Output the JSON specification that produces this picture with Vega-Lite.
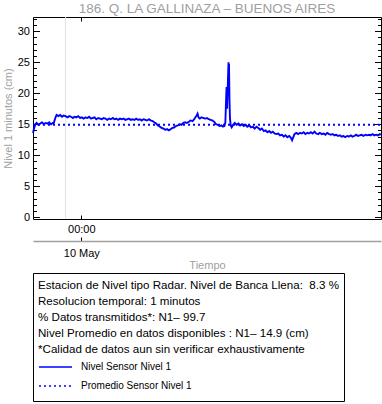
{
  "$schema": "https://vega.github.io/schema/vega-lite/v6.json",
  "width": 348,
  "height": 202,
  "autosize": "none",
  "padding": {"left": 33, "top": 17, "right": 1, "bottom": 185},
  "title": {"text": "186. Q. LA GALLINAZA – BUENOS AIRES", "fontSize": 13.5, "font": "Liberation Sans", "fontWeight": "normal", "color": "#a0a0a0", "anchor": "middle", "baseline": "alphabetic", "offset": 4, "dy": 18, "frame": "group"},
  "config": {
    "view": {"stroke": null},
    "font": "Liberation Sans",
    "axis": {"grid": false, "domainColor": "black", "domainWidth": 1, "tickColor": "black", "tickWidth": 1, "labelColor": "black", "labelFont": "Liberation Sans", "labelFontSize": 11, "labelOverlap": false, "labelFlush": false, "titleFont": "Liberation Sans", "titleFontSize": 11, "titleFontWeight": "normal", "titleColor": "#a0a0a0"},
    "legend": {
      "orient": "bottom", "direction": "vertical", "offset": 2,
      "titleFont": "Liberation Sans", "titleFontSize": 11.6, "titleFontWeight": "normal", "titleColor": "black", "titleLineHeight": 16, "titleBaseline": "line-top", "titlePadding": 4, "titleLimit": 500,
      "labelFont": "Liberation Sans", "labelFontSize": 10, "labelColor": "black", "labelOffset": 8, "labelLimit": 400,
      "padding": 5, "strokeColor": "black", "strokeWidth": 1, "fillColor": "white",
      "symbolType": "stroke", "symbolSize": 1089, "symbolStrokeWidth": 1.5, "clipHeight": 19, "rowPadding": 0
    }
  },
  "datasets": {
    "marca": [{"tiempo": "2024-05-09T22:55:00"}],
    "promedio": [
      {"tiempo": "2024-05-09T20:40:00", "nivel": 14.9},
      {"tiempo": "2024-05-10T20:40:00", "nivel": 14.9}
    ],
    "nivel": [
      {"tiempo": "2024-05-09T20:40:00", "nivel": 13.6},
      {"tiempo": "2024-05-09T20:45:00", "nivel": 14.4},
      {"tiempo": "2024-05-09T20:50:00", "nivel": 15.0},
      {"tiempo": "2024-05-09T20:55:00", "nivel": 15.2},
      {"tiempo": "2024-05-09T21:02:00", "nivel": 14.9},
      {"tiempo": "2024-05-09T21:10:00", "nivel": 15.1},
      {"tiempo": "2024-05-09T21:17:00", "nivel": 15.3},
      {"tiempo": "2024-05-09T21:25:00", "nivel": 15.0},
      {"tiempo": "2024-05-09T21:32:00", "nivel": 15.2},
      {"tiempo": "2024-05-09T21:40:00", "nivel": 15.1},
      {"tiempo": "2024-05-09T21:47:00", "nivel": 15.3},
      {"tiempo": "2024-05-09T21:55:00", "nivel": 15.0},
      {"tiempo": "2024-05-09T22:02:00", "nivel": 15.2},
      {"tiempo": "2024-05-09T22:06:00", "nivel": 15.2},
      {"tiempo": "2024-05-09T22:10:00", "nivel": 15.7},
      {"tiempo": "2024-05-09T22:14:00", "nivel": 16.2},
      {"tiempo": "2024-05-09T22:18:00", "nivel": 16.5},
      {"tiempo": "2024-05-09T22:25:00", "nivel": 16.3},
      {"tiempo": "2024-05-09T22:32:00", "nivel": 16.5},
      {"tiempo": "2024-05-09T22:40:00", "nivel": 16.2},
      {"tiempo": "2024-05-09T22:47:00", "nivel": 16.4},
      {"tiempo": "2024-05-09T22:55:00", "nivel": 16.3},
      {"tiempo": "2024-05-09T23:02:00", "nivel": 16.1},
      {"tiempo": "2024-05-09T23:10:00", "nivel": 16.3},
      {"tiempo": "2024-05-09T23:17:00", "nivel": 16.2},
      {"tiempo": "2024-05-09T23:25:00", "nivel": 16.0},
      {"tiempo": "2024-05-09T23:32:00", "nivel": 16.2},
      {"tiempo": "2024-05-09T23:40:00", "nivel": 16.1},
      {"tiempo": "2024-05-09T23:47:00", "nivel": 16.3},
      {"tiempo": "2024-05-09T23:55:00", "nivel": 16.0},
      {"tiempo": "2024-05-10T00:02:00", "nivel": 16.1},
      {"tiempo": "2024-05-10T00:10:00", "nivel": 15.9},
      {"tiempo": "2024-05-10T00:17:00", "nivel": 16.1},
      {"tiempo": "2024-05-10T00:25:00", "nivel": 16.0},
      {"tiempo": "2024-05-10T00:32:00", "nivel": 16.2},
      {"tiempo": "2024-05-10T00:40:00", "nivel": 15.9},
      {"tiempo": "2024-05-10T00:47:00", "nivel": 16.0},
      {"tiempo": "2024-05-10T00:55:00", "nivel": 16.1},
      {"tiempo": "2024-05-10T01:02:00", "nivel": 15.8},
      {"tiempo": "2024-05-10T01:10:00", "nivel": 16.0},
      {"tiempo": "2024-05-10T01:17:00", "nivel": 15.9},
      {"tiempo": "2024-05-10T01:25:00", "nivel": 15.8},
      {"tiempo": "2024-05-10T01:32:00", "nivel": 16.0},
      {"tiempo": "2024-05-10T01:40:00", "nivel": 15.9},
      {"tiempo": "2024-05-10T01:47:00", "nivel": 15.7},
      {"tiempo": "2024-05-10T01:55:00", "nivel": 15.9},
      {"tiempo": "2024-05-10T02:02:00", "nivel": 15.8},
      {"tiempo": "2024-05-10T02:10:00", "nivel": 16.0},
      {"tiempo": "2024-05-10T02:17:00", "nivel": 15.8},
      {"tiempo": "2024-05-10T02:25:00", "nivel": 15.9},
      {"tiempo": "2024-05-10T02:32:00", "nivel": 15.7},
      {"tiempo": "2024-05-10T02:40:00", "nivel": 15.9},
      {"tiempo": "2024-05-10T02:47:00", "nivel": 15.8},
      {"tiempo": "2024-05-10T02:55:00", "nivel": 15.9},
      {"tiempo": "2024-05-10T03:02:00", "nivel": 15.7},
      {"tiempo": "2024-05-10T03:10:00", "nivel": 15.8},
      {"tiempo": "2024-05-10T03:17:00", "nivel": 15.9},
      {"tiempo": "2024-05-10T03:25:00", "nivel": 15.7},
      {"tiempo": "2024-05-10T03:32:00", "nivel": 15.8},
      {"tiempo": "2024-05-10T03:40:00", "nivel": 15.7},
      {"tiempo": "2024-05-10T03:47:00", "nivel": 15.9},
      {"tiempo": "2024-05-10T03:55:00", "nivel": 15.7},
      {"tiempo": "2024-05-10T04:02:00", "nivel": 15.8},
      {"tiempo": "2024-05-10T04:10:00", "nivel": 15.6},
      {"tiempo": "2024-05-10T04:17:00", "nivel": 15.8},
      {"tiempo": "2024-05-10T04:25:00", "nivel": 15.7},
      {"tiempo": "2024-05-10T04:32:00", "nivel": 15.6},
      {"tiempo": "2024-05-10T04:40:00", "nivel": 15.8},
      {"tiempo": "2024-05-10T04:47:00", "nivel": 15.6},
      {"tiempo": "2024-05-10T04:55:00", "nivel": 15.5},
      {"tiempo": "2024-05-10T05:02:00", "nivel": 15.3},
      {"tiempo": "2024-05-10T05:10:00", "nivel": 15.1},
      {"tiempo": "2024-05-10T05:17:00", "nivel": 14.8},
      {"tiempo": "2024-05-10T05:25:00", "nivel": 14.6},
      {"tiempo": "2024-05-10T05:32:00", "nivel": 14.4},
      {"tiempo": "2024-05-10T05:40:00", "nivel": 14.3},
      {"tiempo": "2024-05-10T05:47:00", "nivel": 14.1},
      {"tiempo": "2024-05-10T05:55:00", "nivel": 14.2},
      {"tiempo": "2024-05-10T06:02:00", "nivel": 14.0},
      {"tiempo": "2024-05-10T06:10:00", "nivel": 14.2},
      {"tiempo": "2024-05-10T06:17:00", "nivel": 14.4},
      {"tiempo": "2024-05-10T06:25:00", "nivel": 14.5},
      {"tiempo": "2024-05-10T06:32:00", "nivel": 14.7},
      {"tiempo": "2024-05-10T06:40:00", "nivel": 14.8},
      {"tiempo": "2024-05-10T06:47:00", "nivel": 15.0},
      {"tiempo": "2024-05-10T06:55:00", "nivel": 14.9},
      {"tiempo": "2024-05-10T07:02:00", "nivel": 15.2},
      {"tiempo": "2024-05-10T07:10:00", "nivel": 15.3},
      {"tiempo": "2024-05-10T07:17:00", "nivel": 15.2},
      {"tiempo": "2024-05-10T07:25:00", "nivel": 15.4},
      {"tiempo": "2024-05-10T07:32:00", "nivel": 15.6},
      {"tiempo": "2024-05-10T07:40:00", "nivel": 15.5},
      {"tiempo": "2024-05-10T07:47:00", "nivel": 15.8},
      {"tiempo": "2024-05-10T07:52:00", "nivel": 16.1},
      {"tiempo": "2024-05-10T07:57:00", "nivel": 16.4},
      {"tiempo": "2024-05-10T08:01:00", "nivel": 16.7},
      {"tiempo": "2024-05-10T08:05:00", "nivel": 16.1},
      {"tiempo": "2024-05-10T08:10:00", "nivel": 15.9},
      {"tiempo": "2024-05-10T08:17:00", "nivel": 16.1},
      {"tiempo": "2024-05-10T08:25:00", "nivel": 16.0},
      {"tiempo": "2024-05-10T08:32:00", "nivel": 15.9},
      {"tiempo": "2024-05-10T08:40:00", "nivel": 16.0},
      {"tiempo": "2024-05-10T08:47:00", "nivel": 15.8},
      {"tiempo": "2024-05-10T08:55:00", "nivel": 15.7},
      {"tiempo": "2024-05-10T09:02:00", "nivel": 15.6},
      {"tiempo": "2024-05-10T09:10:00", "nivel": 15.4},
      {"tiempo": "2024-05-10T09:17:00", "nivel": 15.0},
      {"tiempo": "2024-05-10T09:25:00", "nivel": 14.9},
      {"tiempo": "2024-05-10T09:32:00", "nivel": 14.7},
      {"tiempo": "2024-05-10T09:40:00", "nivel": 14.8},
      {"tiempo": "2024-05-10T09:46:00", "nivel": 14.6},
      {"tiempo": "2024-05-10T09:52:00", "nivel": 14.7},
      {"tiempo": "2024-05-10T09:56:00", "nivel": 15.3},
      {"tiempo": "2024-05-10T09:59:00", "nivel": 19.0},
      {"tiempo": "2024-05-10T10:01:00", "nivel": 21.0},
      {"tiempo": "2024-05-10T10:03:00", "nivel": 17.5},
      {"tiempo": "2024-05-10T10:05:00", "nivel": 20.0},
      {"tiempo": "2024-05-10T10:07:00", "nivel": 22.5},
      {"tiempo": "2024-05-10T10:09:00", "nivel": 25.0},
      {"tiempo": "2024-05-10T10:10:00", "nivel": 22.0},
      {"tiempo": "2024-05-10T10:11:00", "nivel": 24.7},
      {"tiempo": "2024-05-10T10:13:00", "nivel": 19.0},
      {"tiempo": "2024-05-10T10:15:00", "nivel": 16.0},
      {"tiempo": "2024-05-10T10:18:00", "nivel": 14.8},
      {"tiempo": "2024-05-10T10:22:00", "nivel": 14.5},
      {"tiempo": "2024-05-10T10:28:00", "nivel": 14.9},
      {"tiempo": "2024-05-10T10:35:00", "nivel": 15.2},
      {"tiempo": "2024-05-10T10:42:00", "nivel": 14.9},
      {"tiempo": "2024-05-10T10:50:00", "nivel": 15.1},
      {"tiempo": "2024-05-10T10:57:00", "nivel": 14.8},
      {"tiempo": "2024-05-10T11:05:00", "nivel": 15.0},
      {"tiempo": "2024-05-10T11:12:00", "nivel": 14.7},
      {"tiempo": "2024-05-10T11:20:00", "nivel": 14.9},
      {"tiempo": "2024-05-10T11:27:00", "nivel": 14.6},
      {"tiempo": "2024-05-10T11:35:00", "nivel": 14.8},
      {"tiempo": "2024-05-10T11:42:00", "nivel": 14.5},
      {"tiempo": "2024-05-10T11:50:00", "nivel": 14.6},
      {"tiempo": "2024-05-10T11:57:00", "nivel": 14.3},
      {"tiempo": "2024-05-10T12:05:00", "nivel": 14.6},
      {"tiempo": "2024-05-10T12:12:00", "nivel": 14.4},
      {"tiempo": "2024-05-10T12:20:00", "nivel": 14.1},
      {"tiempo": "2024-05-10T12:27:00", "nivel": 14.3},
      {"tiempo": "2024-05-10T12:35:00", "nivel": 13.9},
      {"tiempo": "2024-05-10T12:42:00", "nivel": 14.0},
      {"tiempo": "2024-05-10T12:50:00", "nivel": 13.7},
      {"tiempo": "2024-05-10T12:57:00", "nivel": 13.9},
      {"tiempo": "2024-05-10T13:05:00", "nivel": 13.6},
      {"tiempo": "2024-05-10T13:12:00", "nivel": 13.8},
      {"tiempo": "2024-05-10T13:20:00", "nivel": 13.5},
      {"tiempo": "2024-05-10T13:27:00", "nivel": 13.4},
      {"tiempo": "2024-05-10T13:35:00", "nivel": 13.5},
      {"tiempo": "2024-05-10T13:42:00", "nivel": 13.2},
      {"tiempo": "2024-05-10T13:50:00", "nivel": 13.3},
      {"tiempo": "2024-05-10T13:57:00", "nivel": 13.0},
      {"tiempo": "2024-05-10T14:05:00", "nivel": 13.2},
      {"tiempo": "2024-05-10T14:12:00", "nivel": 12.9},
      {"tiempo": "2024-05-10T14:20:00", "nivel": 13.1},
      {"tiempo": "2024-05-10T14:27:00", "nivel": 12.8},
      {"tiempo": "2024-05-10T14:32:00", "nivel": 12.4},
      {"tiempo": "2024-05-10T14:37:00", "nivel": 12.9},
      {"tiempo": "2024-05-10T14:42:00", "nivel": 13.4},
      {"tiempo": "2024-05-10T14:50:00", "nivel": 13.6},
      {"tiempo": "2024-05-10T14:57:00", "nivel": 13.4},
      {"tiempo": "2024-05-10T15:05:00", "nivel": 13.6},
      {"tiempo": "2024-05-10T15:12:00", "nivel": 13.5},
      {"tiempo": "2024-05-10T15:20:00", "nivel": 13.7},
      {"tiempo": "2024-05-10T15:27:00", "nivel": 13.4},
      {"tiempo": "2024-05-10T15:35:00", "nivel": 13.6},
      {"tiempo": "2024-05-10T15:42:00", "nivel": 13.5},
      {"tiempo": "2024-05-10T15:50:00", "nivel": 13.7},
      {"tiempo": "2024-05-10T15:57:00", "nivel": 13.5},
      {"tiempo": "2024-05-10T16:05:00", "nivel": 13.8},
      {"tiempo": "2024-05-10T16:12:00", "nivel": 13.5},
      {"tiempo": "2024-05-10T16:20:00", "nivel": 13.4},
      {"tiempo": "2024-05-10T16:27:00", "nivel": 13.6},
      {"tiempo": "2024-05-10T16:35:00", "nivel": 13.4},
      {"tiempo": "2024-05-10T16:42:00", "nivel": 13.5},
      {"tiempo": "2024-05-10T16:50:00", "nivel": 13.3},
      {"tiempo": "2024-05-10T16:57:00", "nivel": 13.6},
      {"tiempo": "2024-05-10T17:05:00", "nivel": 13.4},
      {"tiempo": "2024-05-10T17:12:00", "nivel": 13.3},
      {"tiempo": "2024-05-10T17:20:00", "nivel": 13.4},
      {"tiempo": "2024-05-10T17:27:00", "nivel": 13.2},
      {"tiempo": "2024-05-10T17:35:00", "nivel": 13.3},
      {"tiempo": "2024-05-10T17:42:00", "nivel": 13.1},
      {"tiempo": "2024-05-10T17:50:00", "nivel": 13.2},
      {"tiempo": "2024-05-10T17:57:00", "nivel": 13.0},
      {"tiempo": "2024-05-10T18:05:00", "nivel": 13.1},
      {"tiempo": "2024-05-10T18:12:00", "nivel": 12.9},
      {"tiempo": "2024-05-10T18:20:00", "nivel": 13.1},
      {"tiempo": "2024-05-10T18:27:00", "nivel": 13.0},
      {"tiempo": "2024-05-10T18:35:00", "nivel": 13.2},
      {"tiempo": "2024-05-10T18:42:00", "nivel": 13.0},
      {"tiempo": "2024-05-10T18:50:00", "nivel": 13.1},
      {"tiempo": "2024-05-10T18:57:00", "nivel": 13.3},
      {"tiempo": "2024-05-10T19:05:00", "nivel": 13.1},
      {"tiempo": "2024-05-10T19:12:00", "nivel": 13.2},
      {"tiempo": "2024-05-10T19:20:00", "nivel": 13.3},
      {"tiempo": "2024-05-10T19:27:00", "nivel": 13.1},
      {"tiempo": "2024-05-10T19:35:00", "nivel": 13.3},
      {"tiempo": "2024-05-10T19:42:00", "nivel": 13.2},
      {"tiempo": "2024-05-10T19:50:00", "nivel": 13.3},
      {"tiempo": "2024-05-10T19:57:00", "nivel": 13.2},
      {"tiempo": "2024-05-10T20:05:00", "nivel": 13.4},
      {"tiempo": "2024-05-10T20:12:00", "nivel": 13.2},
      {"tiempo": "2024-05-10T20:20:00", "nivel": 13.3},
      {"tiempo": "2024-05-10T20:27:00", "nivel": 13.2},
      {"tiempo": "2024-05-10T20:35:00", "nivel": 13.4},
      {"tiempo": "2024-05-10T20:40:00", "nivel": 13.3}
    ]
  },
  "layer": [
    {
      "data": {"name": "marca"},
      "mark": {"type": "rule", "color": "#e2e2e2", "strokeWidth": 1},
      "encoding": {
        "x": {"field": "tiempo", "type": "temporal",
          "scale": {"domain": [{"year": 2024, "month": 5, "date": 9, "hours": 20, "minutes": 40}, {"year": 2024, "month": 5, "date": 10, "hours": 20, "minutes": 40}]},
          "axis": {"orient": "bottom", "offset": 22, "values": [{"year": 2024, "month": 5, "date": 10}], "format": "%d %b", "domainColor": "#a0a0a0", "domainWidth": 1.5, "tickSize": -4, "labelPadding": 10.5, "title": "Tiempo", "titlePadding": 0.7}}
      }
    },
    {
      "data": {"name": "nivel"},
      "mark": {"type": "line", "strokeWidth": 1.9},
      "encoding": {
        "x": {"field": "tiempo", "type": "temporal",
          "scale": {"domain": [{"year": 2024, "month": 5, "date": 9, "hours": 20, "minutes": 40}, {"year": 2024, "month": 5, "date": 10, "hours": 20, "minutes": 40}]},
          "axis": {"orient": "bottom", "values": [{"year": 2024, "month": 5, "date": 10}], "format": "%H:%M", "tickSize": -4, "labelPadding": 8.5, "title": null}},
        "y": {"field": "nivel", "type": "quantitative",
          "scale": {"domain": [-0.3, 32.3], "nice": false, "zero": false},
          "axis": {"orient": "left", "values": [0,1,2,3,4,5,6,7,8,9,10,11,12,13,14,15,16,17,18,19,20,21,22,23,24,25,26,27,28,29,30,31,32],
            "labelExpr": "datum.value % 5 === 0 ? datum.label : ''",
            "tickSize": {"condition": {"test": "datum.value % 5 === 0", "value": -6.5}, "value": -3.5},
            "labelPadding": 10, "title": "Nivel 1 minutos (cm)", "titlePadding": 4}},
        "color": {"datum": "Nivel Sensor Nivel 1", "type": "nominal",
          "scale": {"domain": ["Nivel Sensor Nivel 1", "Promedio Sensor Nivel 1"], "range": ["#0000ff", "#0000ff"]},
          "legend": {"title": ["Estacion de Nivel tipo Radar. Nivel de Banca Llena:\u00a0 8.3 %", "Resolucion temporal: 1 minutos", "% Datos transmitidos*: N1– 99.7", "Nivel Promedio en datos disponibles : N1– 14.9 (cm)", "*Calidad de datos aun sin verificar exhaustivamente"]}},
        "strokeDash": {"datum": "Nivel Sensor Nivel 1", "type": "nominal",
          "scale": {"domain": ["Nivel Sensor Nivel 1", "Promedio Sensor Nivel 1"], "range": [[1, 0], [2, 3]]},
          "legend": {"title": ["Estacion de Nivel tipo Radar. Nivel de Banca Llena:\u00a0 8.3 %", "Resolucion temporal: 1 minutos", "% Datos transmitidos*: N1– 99.7", "Nivel Promedio en datos disponibles : N1– 14.9 (cm)", "*Calidad de datos aun sin verificar exhaustivamente"]}}
      }
    },
    {
      "data": {"name": "promedio"},
      "mark": {"type": "line", "strokeWidth": 2},
      "encoding": {
        "x": {"field": "tiempo", "type": "temporal",
          "scale": {"domain": [{"year": 2024, "month": 5, "date": 9, "hours": 20, "minutes": 40}, {"year": 2024, "month": 5, "date": 10, "hours": 20, "minutes": 40}]},
          "axis": {"orient": "top", "values": [{"year": 2024, "month": 5, "date": 10}], "labels": false, "tickSize": -4, "title": null}},
        "y": {"field": "nivel", "type": "quantitative",
          "scale": {"domain": [-0.3, 32.3], "nice": false, "zero": false},
          "axis": {"orient": "right", "values": [0,1,2,3,4,5,6,7,8,9,10,11,12,13,14,15,16,17,18,19,20,21,22,23,24,25,26,27,28,29,30,31,32],
            "labels": false,
            "tickSize": {"condition": {"test": "datum.value % 5 === 0", "value": -6.5}, "value": -3.5},
            "title": null}},
        "color": {"datum": "Promedio Sensor Nivel 1", "type": "nominal"},
        "strokeDash": {"datum": "Promedio Sensor Nivel 1", "type": "nominal"}
      }
    }
  ],
  "resolve": {"axis": {"x": "independent", "y": "independent"}}
}
